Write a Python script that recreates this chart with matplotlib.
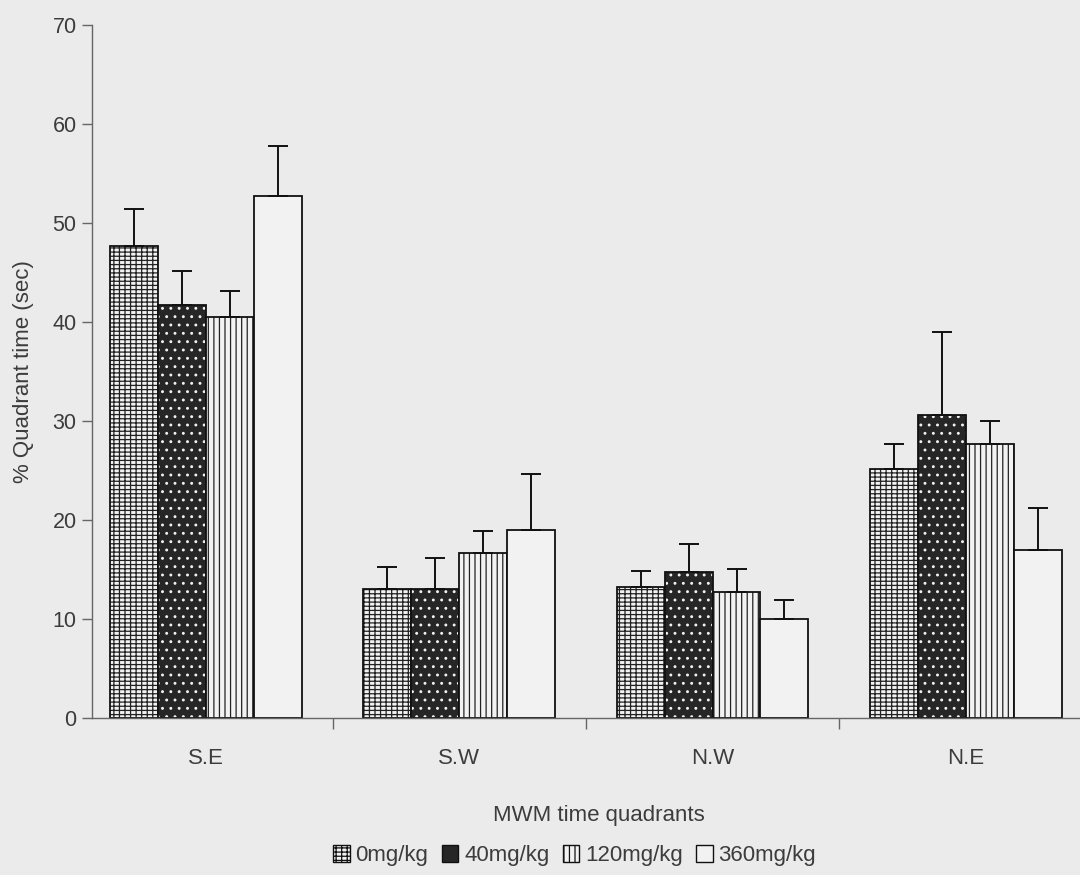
import numpy as np
import matplotlib.pyplot as plt
from matplotlib.patches import Patch

plt.rcParams['font.family'] = ['Liberation Sans', 'DejaVu Sans']
plt.rcParams['hatch.linewidth'] = 0.9

quadrants = ['S.E', 'S.W', 'N.W', 'N.E']
doses = ['0mg/kg', '40mg/kg', '120mg/kg', '360mg/kg']

# mean % time per quadrant for each dose (rows = dose, cols = quadrant)
means = np.array([
    [47.7, 13.1, 13.3, 25.2],
    [41.8, 13.1, 14.8, 30.6],
    [40.5, 16.7, 12.8, 27.7],
    [52.8, 19.0, 10.0, 17.0],
])
errs = np.array([
    [3.8, 2.2, 1.6, 2.5],
    [3.4, 3.1, 2.8, 8.4],
    [2.7, 2.2, 2.3, 2.3],
    [5.0, 5.7, 2.0, 4.2],
])

bg = '#ebebeb'
ink = '#3c3c3c'
fill = ['#f2f2f2', '#262626', '#f2f2f2', '#f2f2f2']
hatch = ['+++-', '..', '|||', None]
hatch_col = ['#222222', '#f2f2f2', '#222222', '#222222']

fig = plt.figure(figsize=(10.8, 8.75), dpi=100, facecolor=bg)
ax = fig.add_axes([0.085, 0.179, 0.915, 0.792])
ax.set_facecolor(bg)

x = np.arange(len(quadrants))
w = 0.189
for i in range(len(doses)):
    xi = x + (i - 1.5) * w
    # hatch layer (edge colour = hatch colour), then outline on top
    ax.bar(xi, means[i], w, color=fill[i], edgecolor=hatch_col[i], hatch=hatch[i], linewidth=0)
    ax.bar(xi, means[i], w, color='none', edgecolor='#111111', linewidth=1.3)
    ax.errorbar(xi, means[i], yerr=[np.zeros(len(quadrants)), errs[i]], fmt='none',
                ecolor='#111111', elinewidth=1.4, capsize=7, capthick=1.4)

ax.set_xlim(-0.45, 3.45)
ax.set_ylim(0, 70)
ax.set_yticks(np.arange(0, 71, 10))
ax.set_xticks(x)
ax.set_xticklabels(quadrants)
ax.set_xticks(x[:-1] + 0.5, minor=True)
ax.tick_params(axis='x', which='major', length=0, pad=21, labelsize=16, colors=ink)
ax.tick_params(axis='x', which='minor', length=8, width=1, color='#666666')
ax.tick_params(axis='y', length=7, width=1, color='#666666', labelsize=15.5, labelcolor=ink, pad=4)

for s in ['top', 'right']:
    ax.spines[s].set_visible(False)
for s in ['left', 'bottom']:
    ax.spines[s].set_color('#666666')
    ax.spines[s].set_linewidth(1)

ax.set_ylabel('% Quadrant time (sec)', fontsize=16, color=ink)
ax.yaxis.set_label_coords(-0.058, 0.5)
ax.set_xlabel('MWM time quadrants', fontsize=16, color=ink)
ax.xaxis.set_label_coords(0.513, -0.125)

handles = [Patch(facecolor=fill[i], edgecolor='#111111', hatch=hatch[i], linewidth=1)
           for i in range(len(doses))]
handles[1] = Patch(facecolor=fill[1], edgecolor='#111111', linewidth=1)
leg = fig.legend(handles, doses, loc='center', bbox_to_anchor=(0.532, 0.022), ncol=4,
                 frameon=False, fontsize=16, handlelength=0.75, handleheight=0.75,
                 handletextpad=0.25, columnspacing=0.6)
for t in leg.get_texts():
    t.set_color(ink)

fig.savefig('out.png', dpi=100, facecolor=bg)
